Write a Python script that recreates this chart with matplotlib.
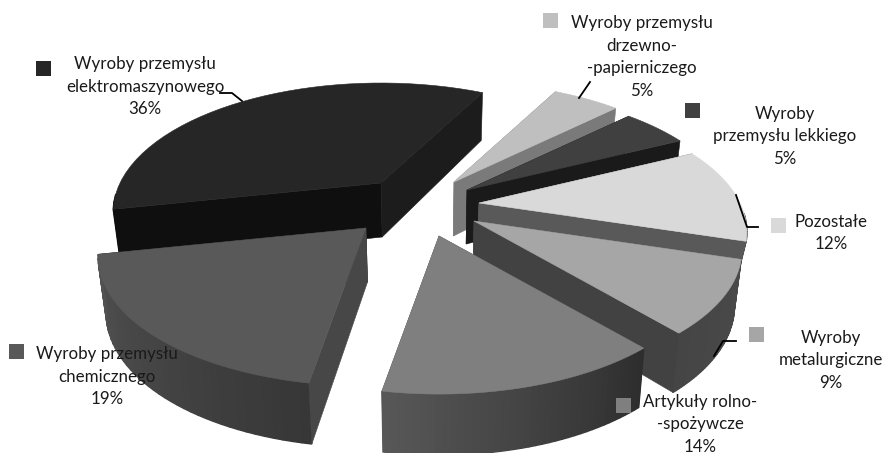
import numpy as np
import matplotlib
matplotlib.use('Agg')
import matplotlib.pyplot as plt
from matplotlib.patches import Polygon, Rectangle

# slices clockwise, starting at the boundary on the top
names = ['Wyroby przemysłu\ndrzewno-\n-papierniczego', 'Wyroby\nprzemysłu lekkiego', 'Pozostałe',
         'Wyroby\nmetalurgiczne', 'Artykuły rolno-\n-spożywcze', 'Wyroby przemysłu\nchemicznego',
         'Wyroby przemysłu\nelektromaszynowego']
values = [5, 5, 12, 9, 14, 19, 36]

top_col = ['#bfbfbf', '#404040', '#d9d9d9', '#a6a6a6', '#7f7f7f', '#595959', '#262626']
# colour of the cut face on the clockwise-first edge and on the last edge
cut_a = ['#7a7a7a', '#1a1a1a', '#595959', '#424242', '#474747', '#474747', '#0f0f0f']
cut_b = ['#7a7a7a', '#1a1a1a', '#595959', '#424242', '#444444', '#0f0f0f', '#1c1c1c']
# outer wall gradient, from the first edge to the last edge
wall_a = ['#6a6a6a', '#1a1a1a', '#505050', '#4a4a4a', '#2e2e2e', '#373737', '#0f0f0f']
wall_b = ['#6a6a6a', '#1a1a1a', '#505050', '#454545', '#575757', '#525252', '#0f0f0f']

# explode offsets and label placing, in pixels of the 885x453 picture
center = (430, 205)
explode = [(24, -23), (37, -15), (49, -2), (44, 16), (9, 31), (-64, 23), (-49, -22)]
depth = [54, 54, 28, 54, 54, 54, 54]   # pozostale is hidden below the metal slice anyway
label_xy = [(642, 57), (785, 136), (831, 233), (831, 360), (700, 424), (107, 377), (145, 87)]
square_xy = [(543, 13), (685, 103), (771, 218), (749, 327), (616, 398), (9, 344), (36, 61)]
leaders = [[(590, 82), (579, 98)],
           [],
           [(736, 195), (747, 227), (758, 227)],
           [(736, 341), (723, 341), (714, 356)],
           [],
           [],
           [(220, 93), (232, 93), (242, 101)]]
draw_order = [6, 0, 1, 2, 3, 4, 5]

start_angle = 27.8
a, b, p = 261.0, 122.5, 0.225   # ellipse and perspective of the pie plane
shrink = 0.976


def plane(theta):
    # unit circle, theta clockwise from the far side
    t = np.radians(theta)
    return np.sin(t), -np.cos(t)


def project(X, Y):
    s = 1.0 / (1 - p * Y)
    return a * X * s, b * Y * s


def lower(x, y, Y, h):
    # same point on the bottom of the slab
    return center[0] + (x - center[0]) * shrink, y + h + 7 * Y


def mix(c1, c2, t):
    c1 = np.array(matplotlib.colors.to_rgb(c1))
    c2 = np.array(matplotlib.colors.to_rgb(c2))
    return tuple(c1 + (c2 - c1) * t)


def face(ax, pts, col, z, lw=0.4):
    ax.add_patch(Polygon(pts, closed=True, facecolor=col, edgecolor=col, linewidth=lw, zorder=z))


fig = plt.figure(figsize=(8.85, 4.53), dpi=100)
ax = fig.add_axes([0, 0, 1, 1])
ax.set_xlim(0, 885)
ax.set_ylim(453, 0)
ax.axis('off')

edges = start_angle + np.concatenate([[0], np.cumsum(values)]) * 3.6

z = 1
for i in draw_order:
    th = np.linspace(edges[i], edges[i + 1], 40)
    X, Y = plane(th)
    dx, dy = project(X, Y)
    ox = center[0] + explode[i][0]
    oy = center[1] + explode[i][1]
    xs, ys = ox + dx, oy + dy
    bx, by = lower(xs, ys, Y, depth[i])
    apex_b = lower(ox, oy, 0, depth[i])

    # cut faces, hidden ones go under the wall
    cuts = [(0, cut_a[i]), (-1, cut_b[i])]
    mid = len(th) // 2
    visible = []
    for k, col in cuts:
        pts = [(ox, oy), (xs[k], ys[k]), (bx[k], by[k]), apex_b]
        slope = (ys[k] - oy) / (xs[k] - ox)
        if ys[mid] < oy + slope * (xs[mid] - ox):
            visible.append((pts, col))
        else:
            face(ax, pts, col, z)
            z += 1

    for k in range(len(th) - 1):
        # far side of the wall can't be seen
        if Y[k] < 0.1 and Y[k + 1] < 0.1:
            continue
        col = mix(wall_a[i], wall_b[i], k / (len(th) - 2))
        quad = [(xs[k], ys[k]), (xs[k + 1], ys[k + 1]), (bx[k + 1], by[k + 1]), (bx[k], by[k])]
        face(ax, quad, col, z, lw=1.0)
    z += 1

    for pts, col in visible:
        face(ax, pts, col, z)
        z += 1

    face(ax, [(ox, oy)] + list(zip(xs, ys)), top_col[i], z)
    z += 1

plt.rcParams['font.family'] = ['Lato', 'DejaVu Sans']
for i in range(len(names)):
    ax.text(label_xy[i][0], label_xy[i][1], f'{names[i]}\n{values[i]}%', ha='center', va='center',
            multialignment='center', fontsize=12.2, color='#1a1a1a', linespacing=1.5, zorder=z + 2)
    ax.add_patch(Rectangle(square_xy[i], 15, 15, facecolor=top_col[i], edgecolor='none', zorder=z + 1))
    if leaders[i]:
        ax.plot(*zip(*leaders[i]), color='black', linewidth=1.3, zorder=z + 1)

fig.savefig('out.png', dpi=100)
